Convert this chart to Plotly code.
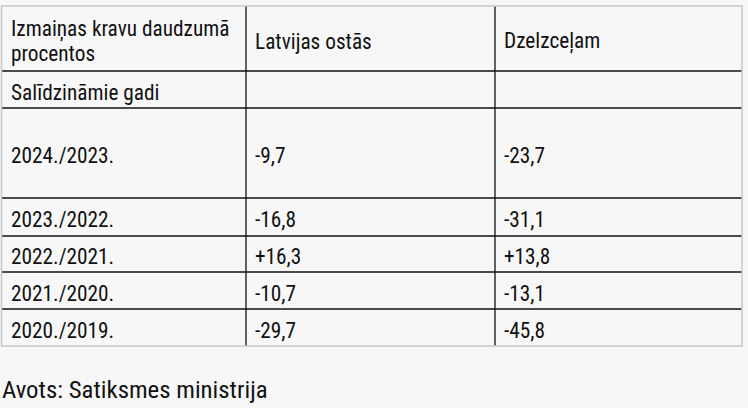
"""Cargo volume change table (Latvian ports vs railway), drawn as a plotly figure."""
import plotly.graph_objects as go

# --- data ---------------------------------------------------------------
header = ["Izmaiņas kravu daudzumā<br>procentos", "Latvijas ostās", "Dzelzceļam"]
subheader = ["Salīdzināmie gadi", "", ""]
periods = ["2024./2023.", "2023./2022.", "2022./2021.", "2021./2020.", "2020./2019."]
ports = ["-9,7", "-16,8", "+16,3", "-10,7", "-29,7"]
railway = ["-23,7", "-31,1", "+13,8", "-13,1", "-45,8"]
source = "Avots: Satiksmes ministrija"

# --- layout (pixels) ----------------------------------------------------
W, H = 748, 408
COL_EDGES = [1.5, 246, 495, 742]
TOP = 6
ROW_H = [65, 37, 90, 38, 36, 37, 37]
PAD = 8
LINE_GAP = 24  # line spacing inside a wrapped cell
BG = "#f7f7f7"
FONT = "'Roboto Condensed', Roboto, Arial, sans-serif"
TXT = "#111111"

rows = [header, subheader] + [list(r) for r in zip(periods, ports, railway)]
row_edges = [TOP]
for h in ROW_H:
    row_edges.append(row_edges[-1] + h)

fig = go.Figure()
shapes = []
# inner grid lines (black)
for y in row_edges[1:-1]:
    shapes.append(dict(type="line", x0=COL_EDGES[0], x1=COL_EDGES[-1], y0=y, y1=y,
                       line=dict(color="#111", width=1.3)))
for x in COL_EDGES[1:-1]:
    shapes.append(dict(type="line", x0=x, x1=x, y0=row_edges[0], y1=row_edges[-1],
                       line=dict(color="#111", width=1.3)))
# outer frame (light grey)
shapes.append(dict(type="rect", x0=COL_EDGES[0], x1=COL_EDGES[-1], y0=row_edges[0],
                   y1=row_edges[-1], line=dict(color="#c8c8c8", width=1.5)))

ann = []
for i, row in enumerate(rows):
    yc = (row_edges[i] + row_edges[i + 1]) / 2 + 2.5
    for j, txt in enumerate(row):
        if not txt:
            continue
        lines = txt.split("<br>")
        y0 = yc - LINE_GAP * (len(lines) - 1) / 2
        for k, ln in enumerate(lines):
            ann.append(dict(x=COL_EDGES[j] + PAD - 1, y=y0 + k * LINE_GAP, text=ln,
                            showarrow=False, xanchor="left", yanchor="middle",
                            font=dict(family=FONT, size=21.3, color=TXT)))
ann.append(dict(x=0, y=389, text=source, showarrow=False, xanchor="left",
                yanchor="middle", font=dict(family=FONT, size=24.8, color=TXT)))

fig.update_layout(
    width=W, height=H, margin=dict(l=0, r=0, t=0, b=0),
    paper_bgcolor=BG, plot_bgcolor=BG,
    xaxis=dict(range=[0, W], visible=False, fixedrange=True),
    yaxis=dict(range=[H, 0], visible=False, fixedrange=True),
    shapes=shapes, annotations=ann, showlegend=False,
)
# drop the default 8px body margin so the figure sits flush in the window
fig.write_html("out.html", config={"displayModeBar": False},
               post_script=f"document.body.style.margin='0';"
                           f"document.body.style.background='{BG}';")
